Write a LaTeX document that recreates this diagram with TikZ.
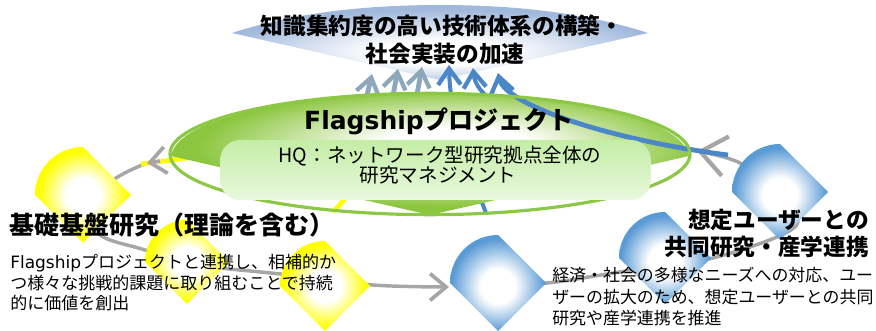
\documentclass[tikz,border=0pt]{standalone}
\usepackage{fontspec}
\newfontfamily\jp{Noto Sans CJK JP}
\newfontfamily\lat{DejaVu Sans}
\usetikzlibrary{arrows.meta,shapes.geometric}
\definecolor{gemyellow}{RGB}{255,255,0}
\definecolor{gemblue}{RGB}{91,155,213}
\definecolor{flaggreen}{RGB}{140,198,63}
\definecolor{linegreen}{RGB}{140,200,70}
\definecolor{topblue}{RGB}{160,184,220}
\definecolor{greyline}{RGB}{166,166,166}
\definecolor{arrowgrey}{RGB}{140,168,186}
\definecolor{arrowblue}{RGB}{74,134,200}
\definecolor{rectA}{RGB}{196,237,165}
\definecolor{rectB}{RGB}{232,248,222}
\pgfdeclareradialshading{yshade}{\pgfpoint{0bp}{0bp}}{color(0bp)=(white); color(9bp)=(white); color(23bp)=(gemyellow); color(50bp)=(gemyellow)}
\pgfdeclareradialshading{bshade}{\pgfpoint{0bp}{-2bp}}{color(0bp)=(white); color(9bp)=(white); color(24bp)=(gemblue); color(50bp)=(gemblue)}
\pgfdeclareradialshading{gshade}{\pgfpoint{3bp}{5bp}}{color(0bp)=(white); color(7bp)=(white); color(24bp)=(flaggreen); color(50bp)=(flaggreen)}
\pgfdeclareradialshading{tshade}{\pgfpoint{0bp}{-8bp}}{color(0bp)=(white); color(8bp)=(white); color(26bp)=(topblue); color(50bp)=(topblue)}
\newcommand\jpsize[1]{\fontsize{#1}{#1}\selectfont}
\tikzset{
  gem/.pic={\path[shading=#1] (-1,0) .. controls (-1,-0.552) and (-0.552,-1) .. (0,-1) -- (1,0) -- (0,1) -- cycle;},
  cyc/.style={draw=greyline, line width=2.6pt},
  barbL/.tip={Straight Barb[length=12pt, width=20pt, line width=2.8pt]},
  barbR/.tip={Straight Barb[length=19pt, width=30pt, line width=3.2pt]},
  barbU/.tip={Straight Barb[length=12pt, width=17pt, line width=3.2pt]},
  yel/.style={draw=gemyellow, line width=3.6pt},
  upgrey/.style={draw=arrowgrey, line width=3.6pt, -barbU},
  upblue/.style={draw=arrowblue, line width=3pt, -barbU},
  txt/.style={inner sep=0pt, text=black},
  hqbox/.style={rounded corners=15pt, top color=rectA, bottom color=rectB, inner sep=0pt}
}
\begin{document}
\begin{tikzpicture}[x=0.75pt, y=-0.75pt]
\useasboundingbox (0,0) rectangle (876,331);
% top goal shape
\path[shading=tshade] (232,33) .. controls (290,14) and (360,5) .. (440,5) .. controls (520,5) and (590,14) .. (648,33) -- (440,80) -- cycle;
% coordinates
\coordinate (Y1) at (83,195);
\coordinate (Y2) at (187,262);
\coordinate (Y3) at (325,286);
\coordinate (B3) at (498,283);
\coordinate (B2) at (665,258);
\coordinate (B1) at (780,192);
\coordinate (cL) at (147,163);
\coordinate (eL) at (160,161);
\coordinate (cB) at (449,287);
\coordinate (cR) at (697,151);
% grey cycle
\draw[cyc, -barbL] plot[smooth, tension=0.6] coordinates {(cL) (112,181) (93,210) (100,235) (145,250) (190,264) (230,269) (290,275) (373,285) (cB)};
\draw[cyc, -barbR] plot[smooth, tension=0.55] coordinates {(B3) (547,283) (620,272) (713,258) (796,226) (772,192) (740,163) (cR)};
% yellow and thin lines behind flagship
\coordinate (yl1) at (141,164);
\coordinate (yl2) at (333,212);
\coordinate (g1) at (365,104); \coordinate (g1t) at (372,74);
\coordinate (g2) at (392,101); \coordinate (g2t) at (398,69);
\coordinate (g3) at (416,100); \coordinate (g3t) at (422,67);
\draw[yel] (yl1) -- (187,158) .. controls (260,140) and (350,125) .. (g1);
\draw[yel] (yl2) .. controls (355,190) and (388,140) .. (g2);
\draw[cyc, -barbL] (eL) -- (cL);
\draw[upgrey] (g1) -- (g1t);
\draw[upgrey] (g2) -- (g2t);
\draw[upgrey] (g3) -- (g3t);
\coordinate (a1) at (486,213); \coordinate (a1t) at (449,65);
\coordinate (a2) at (640,196); \coordinate (a2t) at (473,68);
\coordinate (a3) at (728,155); \coordinate (a3t) at (498,73);
\draw[upblue] (a1) .. controls (462,150) and (450,110) .. (a1t);
\draw[upblue] (a2) .. controls (600,130) and (478,120) .. (a2t);
% flagship shape
\path[shading=gshade] (171,156) .. controls (178,118) and (290,94) .. (430,94) .. controls (570,94) and (682,118) .. (689,156) -- (430,215) -- cycle;
\draw[upblue, line width=3.6pt] (a3) .. controls (610,140) and (505,105) .. (a3t);
\node[draw=linegreen, line width=2.4pt, ellipse, minimum width=390pt, minimum height=91pt, inner sep=0pt] (flag) at (430,154) {};
\node[hqbox, minimum width=323pt, minimum height=45pt] (hq) at (435.5,170) {};
% gems
\pic[scale=48] at (Y1) {gem=yshade};
\pic[scale=42] at (Y2) {gem=yshade};
\pic[scale=45] at (Y3) {gem=yshade};
\pic[scale=48] at (B3) {gem=bshade};
\pic[scale=46] at (B2) {gem=bshade};
\pic[scale=48] at (B1) {gem=bshade};
% texts
\node[txt, font=\jp\bfseries\jpsize{17}] (t1) at (442,26) {知識集約度の高い技術体系の構築・};
\node[txt, font=\jp\bfseries\jpsize{17}] (t2) at (445,54) {社会実装の加速};
\node[txt, font=\jp\bfseries\jpsize{18.75}] (fl) at (439,121) {{\lat\bfseries Flagship}プロジェクト};
\node[txt, font=\jp\jpsize{14.7}] (hq1) at (440,156) {HQ：ネットワーク型研究拠点全体の};
\node[txt, font=\jp\jpsize{14.7}] (hq2) at (438,175) {研究マネジメント};
\node[txt, anchor=west, font=\jp\bfseries\jpsize{18.75}] (lh) at (9,225) {基礎基盤研究（理論を含む）};
\node[txt, anchor=west, font=\jp\jpsize{12.75}] (lb1) at (10,263) {{\lat Flagship}プロジェクトと連携し、相補的か};
\node[txt, anchor=west, font=\jp\jpsize{12.75}] (lb2) at (10,283) {つ様々な挑戦的課題に取り組むことで持続};
\node[txt, anchor=west, font=\jp\jpsize{12.75}] (lb3) at (10,303) {的に価値を創出};
\node[txt, anchor=east, font=\jp\bfseries\jpsize{17}] (rh1) at (869,220) {想定ユーザーとの};
\node[txt, anchor=east, font=\jp\bfseries\jpsize{17}] (rh2) at (869,247) {共同研究・産学連携};
\node[txt, anchor=west, font=\jp\jpsize{12.7}] (rb1) at (552,275) {経済・社会の多様なニーズへの対応、ユー};
\node[txt, anchor=west, font=\jp\jpsize{12.7}] (rb2) at (552,297) {ザーの拡大のため、想定ユーザーとの共同};
\node[txt, anchor=west, font=\jp\jpsize{12.7}] (rb3) at (552,318) {研究や産学連携を推進};
\end{tikzpicture}
\end{document}
